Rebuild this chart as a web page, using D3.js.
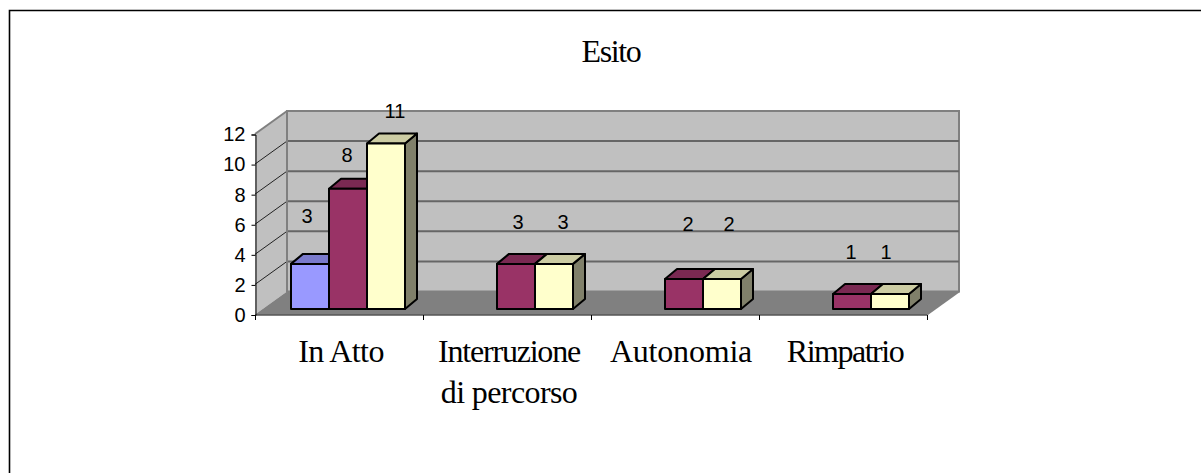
<!DOCTYPE html>
<html>
<head>
<meta charset="utf-8">
<script src="https://cdn.jsdelivr.net/npm/d3@7"></script>
<style>
  html, body { margin: 0; padding: 0; background: #fff; overflow: hidden; }
  svg { display: block; }
</style>
</head>
<body>
<svg id="chart" width="1201" height="473"></svg>
<script>
// MARK: Data.

const title      = 'Esito'
const categories = ['In Atto', 'Interruzione|di percorso', 'Autonomia', 'Rimpatrio']
const yTicks     = [0, 2, 4, 6, 8, 10, 12]
const seriesA    = [3, null, null, null]
const seriesB    = [8, 3, 2, 1]
const seriesC    = [11, 3, 2, 1]

// MARK: Some constants.

const DEPTH_X = 32
const DEPTH_Y = 23
const BAR_DX  = 12
const BAR_DY  = 10

const series = [
  { values: seriesA, front: '#9999ff', top: '#7a7acc', side: '#5c5c99' },
  { values: seriesB, front: '#993366', top: '#7a2952', side: '#5c1f3d' },
  { values: seriesC, front: '#ffffcc', top: '#ccccA3', side: '#80806a' },
]

// Data labels were placed by hand in the original: [dx, dy] from the bar's top centre, per series.
const labelNudge = [
  [[-3, -46], [0, 0], [0, 0], [0, 0]],
  [[-1, -32], [2, -40], [4, -53], [-1, -40]],
  [[9, -31], [9, -40], [7, -53], [-4, -40]],
]

// The category labels don't sit on the band centres, and their tracking differs.
const categoryNudge    = [2, 2, 6, 2]
const categorySpacings = [[-0.6], [-1.2, -0.6], [-0.2], [-1.5]]

const SANS  = '"Liberation Sans", Arial, sans-serif'
const SERIF = '"Liberation Serif", "Times New Roman", serif'

const svg = d3.select('#chart')

const x = d3.scaleBand().domain(categories).range([255, 927])
const y = d3.scaleLinear().domain([0, 12]).range([314.5, 134])
const barX = d3.scaleBand().domain(d3.range(series.length)).range([36, 150])

// Frame: only its left and top edges are inside the picture.
svg.append('path')
  .attr('d', 'M9.5,473 V10.5 H1201')
  .attr('fill', 'none')
  .attr('stroke', '#000')
  .attr('stroke-width', 1.6)

svg.append('text')
  .attr('x', 611)
  .attr('y', 62)
  .attr('text-anchor', 'middle')
  .attr('font-family', SERIF)
  .attr('font-size', 32)
  .style('letter-spacing', '-1.4px')
  .text(title)

// MARK: Walls and floor.

const [x0, x1] = x.range()
const y0 = y(0)
const y1 = y(12)
const walls = svg.append('g')

walls.append('polygon')
  .attr('points', [[x0, y0], [x0 + DEPTH_X, y0 - DEPTH_Y], [x0 + DEPTH_X, y1 - DEPTH_Y], [x0, y1]].join(' '))
  .attr('fill', '#c0c0c0')
walls.append('rect')
  .attr('x', x0 + DEPTH_X)
  .attr('y', y1 - DEPTH_Y)
  .attr('width', x1 - x0)
  .attr('height', y0 - y1)
  .attr('fill', '#c0c0c0')
  .attr('stroke', '#808080')
  .attr('stroke-width', 2)
walls.append('polygon')
  .attr('points', [[x0, y0], [x0 + DEPTH_X, y0 - DEPTH_Y], [x1 + DEPTH_X, y0 - DEPTH_Y], [x1, y0]].join(' '))
  .attr('fill', '#808080')

// Gridlines run along the side wall (thin black) and then the back wall (grey).
walls.selectAll('line.side')
  .data(yTicks.slice(1, -1))
  .join('line')
  .attr('class', 'side')
  .attr('x1', x0)
  .attr('y1', (d) => y(d))
  .attr('x2', x0 + DEPTH_X)
  .attr('y2', (d) => y(d) - DEPTH_Y)
  .attr('stroke', '#222')
walls.selectAll('line.back')
  .data(yTicks.slice(1, -1))
  .join('line')
  .attr('class', 'back')
  .attr('x1', x0 + DEPTH_X)
  .attr('y1', (d) => y(d) - DEPTH_Y)
  .attr('x2', x1 + DEPTH_X)
  .attr('y2', (d) => y(d) - DEPTH_Y)
  .attr('stroke', '#666')
  .attr('stroke-width', 2)
walls.append('line')
  .attr('x1', x0 + DEPTH_X)
  .attr('y1', y1 - DEPTH_Y)
  .attr('x2', x0)
  .attr('y2', y1)
  .attr('stroke', '#808080')
  .attr('stroke-width', 2)
walls.append('line')
  .attr('x1', x0 + DEPTH_X)
  .attr('y1', y0 - DEPTH_Y)
  .attr('x2', x0 + DEPTH_X)
  .attr('y2', y1 - DEPTH_Y)
  .attr('stroke', '#808080')
  .attr('stroke-width', 2)
walls.append('line')
  .attr('x1', x1)
  .attr('y1', y0)
  .attr('x2', x1 + DEPTH_X)
  .attr('y2', y0 - DEPTH_Y)
  .attr('stroke', '#808080')
  .attr('stroke-width', 2)

// MARK: Axes.

const yAxis = svg.append('g')
  .attr('transform', `translate(${x0 + 0.5},0.5)`)
  .call(d3.axisLeft(y).tickValues(yTicks).tickSize(4).tickPadding(6))
yAxis.selectAll('text')
  .attr('font-family', SANS)
  .attr('font-size', 20)
  .attr('fill', '#000')
yAxis.select('.domain').attr('stroke', '#000')

const xAxis = svg.append('g')
  .attr('transform', `translate(0,${y0 + 0.5})`)
xAxis.append('line')
  .attr('x1', x0)
  .attr('x2', x1)
  .attr('stroke', '#000')
xAxis.selectAll('line.tick')
  .data(d3.range(categories.length + 1))
  .join('line')
  .attr('class', 'tick')
  .attr('x1', (i) => x0 + i * x.step() + 0.5)
  .attr('x2', (i) => x0 + i * x.step() + 0.5)
  .attr('y1', 0)
  .attr('y2', 5)
  .attr('stroke', '#000')

xAxis.selectAll('text')
  .data(categories)
  .join('text')
  .attr('text-anchor', 'middle')
  .attr('font-family', SERIF)
  .attr('font-size', 32)
  .each(function (d, i) {
    d.split('|').forEach((part, j) => {
      d3.select(this).append('tspan')
        .attr('x', x(d) + x.bandwidth() / 2 + categoryNudge[i])
        .attr('y', 46.5 + j * 41)
        .style('letter-spacing', `${categorySpacings[i][j]}px`)
        .text(part)
    })
  })

// MARK: Bars.

const bars = svg.append('g').attr('stroke', '#000').attr('stroke-width', 2).attr('stroke-linejoin', 'round')
const barBase = y0 - 5.5

categories.forEach((cat, c) => {
  series.forEach((s, k) => {
    const v = s.values[c]
    if (v === null) return
    const left  = x(cat) + barX(k)
    const right = left + barX.bandwidth()
    const top   = barBase - (y0 - y(v))
    const g     = bars.append('g')

    g.append('polygon')
      .attr('points', [[right, barBase], [right + BAR_DX, barBase - BAR_DY], [right + BAR_DX, top - BAR_DY], [right, top]].join(' '))
      .attr('fill', s.side)
    g.append('polygon')
      .attr('points', [[left, top], [left + BAR_DX, top - BAR_DY], [right + BAR_DX, top - BAR_DY], [right, top]].join(' '))
      .attr('fill', s.top)
    g.append('rect')
      .attr('x', left)
      .attr('y', top)
      .attr('width', right - left)
      .attr('height', barBase - top)
      .attr('fill', s.front)
  })
})

// MARK: Data labels.

const labels = svg.append('g')
  .attr('font-family', SANS)
  .attr('font-size', 20)
  .attr('text-anchor', 'middle')

categories.forEach((cat, c) => {
  series.forEach((s, k) => {
    const v = s.values[c]
    if (v === null) return
    const [dx, dy] = labelNudge[k][c]
    labels.append('text')
      .attr('x', x(cat) + barX(k) + barX.bandwidth() / 2 + dx)
      .attr('y', y(v) + dy)
      .text(v)
  })
})
</script>
</body>
</html>
